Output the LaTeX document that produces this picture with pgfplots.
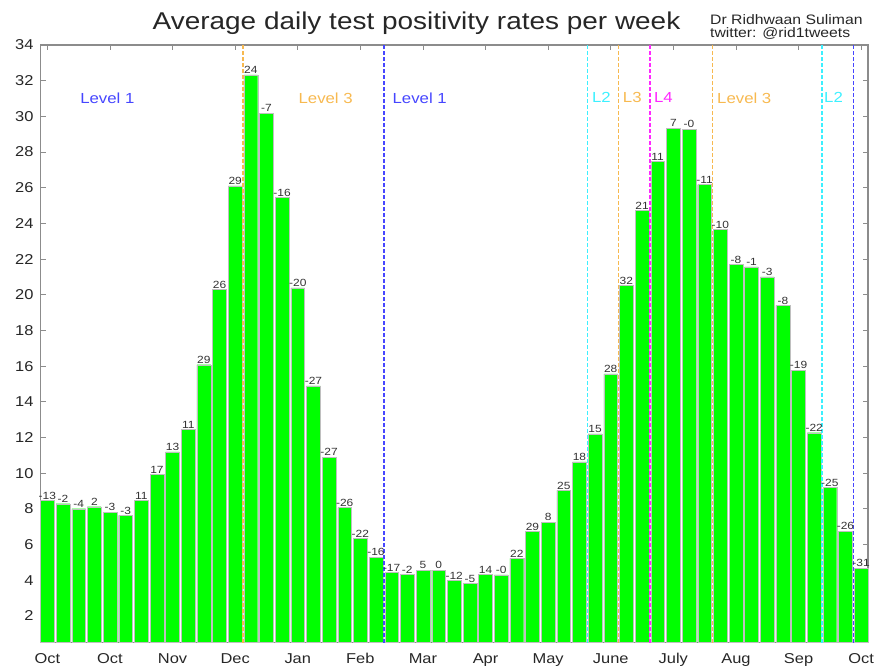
\documentclass[border=0pt]{standalone}
\usepackage{fontspec}
\setmainfont{Liberation Sans}[FakeStretch=1.15]
\usepackage{pgfplots}
\pgfplotsset{compat=1.18}
\usepackage{pgfplotstable}
\definecolor{bargreen}{RGB}{0,255,0}
\definecolor{lblue}{RGB}{70,70,255}
\definecolor{lorange}{RGB}{247,185,80}
\definecolor{lcyan}{RGB}{60,240,255}
\definecolor{lmag}{RGB}{255,40,255}

\pgfplotstableread{
x y lab
1 8.48 -13
2 8.29 -2
3 8.01 -4
4 8.12 2
5 7.82 -3
6 7.64 -3
7 8.48 11
8 9.93 17
9 11.20 13
10 12.45 11
11 16.08 29
12 20.29 26
13 26.11 29
14 32.33 24
15 30.18 -7
16 25.46 -16
17 20.39 -20
18 14.90 -27
19 10.90 -27
20 8.07 -26
21 6.33 -22
22 5.30 -16
23 4.43 -17
24 4.33 -2
25 4.56 5
26 4.57 0
27 4.00 -12
28 3.81 -5
29 4.33 14
30 4.30 -0
31 5.23 22
32 6.74 29
33 7.25 8
34 9.04 25
35 10.64 18
36 12.21 15
37 15.57 28
38 20.51 32
39 24.73 21
40 27.47 11
41 29.34 7
42 29.29 -0
43 26.17 -11
44 23.65 -10
45 21.69 -8
46 21.56 -1
47 21.00 -3
48 19.40 -8
49 15.77 -19
50 12.27 -22
51 9.19 -25
52 6.76 -26
53 4.67 -31
}\datatable

\begin{document}
\begin{tikzpicture}
\useasboundingbox (0,0) rectangle (874bp,667bp);
\begin{axis}[
  at={(40.5bp,24.3bp)}, anchor=south west,
  scale only axis, width=827.5bp, height=597.7bp,
  xmin=0.56, xmax=53.44, ymin=0.5, ymax=34,
  xtick={1,5,9,13,17,21,25,29,33,37,41,45,49,53},
  xticklabels={Oct,Oct,Nov,Dec,Jan,Feb,Mar,Apr,May,June,July,Aug,Sep,Oct},
  ytick={2,4,...,34},
  tick align=inside, major tick length=5bp,
  tick style={black!45, line width=0.8bp},
  axis line style={black!45, line width=1.2bp},
  ticklabel style={font=\fontsize{14.3bp}{16bp}\selectfont, text=black!85},
  xticklabel style={anchor=base, yshift=-21.3bp},
  yticklabel style={anchor=east, xshift=-3.5bp},
  /pgf/number format/assume math mode=true,
  clip=false,
  vline/.style={line width=1.5bp, dash pattern=on 3.5bp off 2.5bp, forget plot},
]
\addplot[ybar, bar width=0.88, bar shift=0pt, fill=bargreen, draw=black!25, line width=0.4bp,
  nodes near coords, point meta=explicit symbolic,
  every node near coord/.append style={font=\fontsize{10.4bp}{12bp}\selectfont, text=black!80, inner sep=1bp, anchor=south}]
  table[x=x, y=y, meta=lab] {\datatable};

\addplot[vline, color=lorange] coordinates {(13.5,0.5) (13.5,34)};
\addplot[vline, color=lblue] coordinates {(22.5,0.5) (22.5,34)};
\addplot[vline, color=lcyan] coordinates {(35.5,0.5) (35.5,34)};
\addplot[vline, color=lorange] coordinates {(37.5,0.5) (37.5,34)};
\addplot[vline, color=lmag] coordinates {(39.5,0.5) (39.5,34)};
\addplot[vline, color=lorange] coordinates {(43.5,0.5) (43.5,34)};
\addplot[vline, color=lcyan] coordinates {(50.5,0.5) (50.5,34)};
\addplot[vline, color=lblue] coordinates {(52.5,0.5) (52.5,34)};

\tikzset{lvl/.style={anchor=west, inner sep=0pt, font=\fontsize{14.6bp}{16bp}\selectfont}}
\node[lvl, text=lblue] at (axis cs:3.09,31.04) {Level 1};
\node[lvl, text=lorange] at (axis cs:17.04,31.04) {Level 3};
\node[lvl, text=lblue] at (axis cs:23.05,31.04) {Level 1};
\node[lvl, text=lcyan] at (axis cs:35.8,31.04) {L2};
\node[lvl, text=lorange] at (axis cs:37.77,31.04) {L3};
\node[lvl, text=lmag] at (axis cs:39.76,31.04) {L4};
\node[lvl, text=lorange] at (axis cs:43.79,31.04) {Level 3};
\node[lvl, text=lcyan] at (axis cs:50.63,31.04) {L2};
\end{axis}
\node[anchor=base, inner sep=0pt, font=\fontsize{24.3bp}{28bp}\selectfont, text=black!85] at (416.5bp,637bp) {Average daily test positivity rates per week};
\node[anchor=base west, inner sep=0pt, font=\fontsize{13.7bp}{14bp}\selectfont, text=black!85] at (710bp,642bp) {Dr Ridhwaan Suliman};
\node[anchor=base west, inner sep=0pt, font=\fontsize{13.7bp}{14bp}\selectfont, text=black!85] at (710bp,629.7bp) {twitter: @rid1tweets};
\end{tikzpicture}
\end{document}
